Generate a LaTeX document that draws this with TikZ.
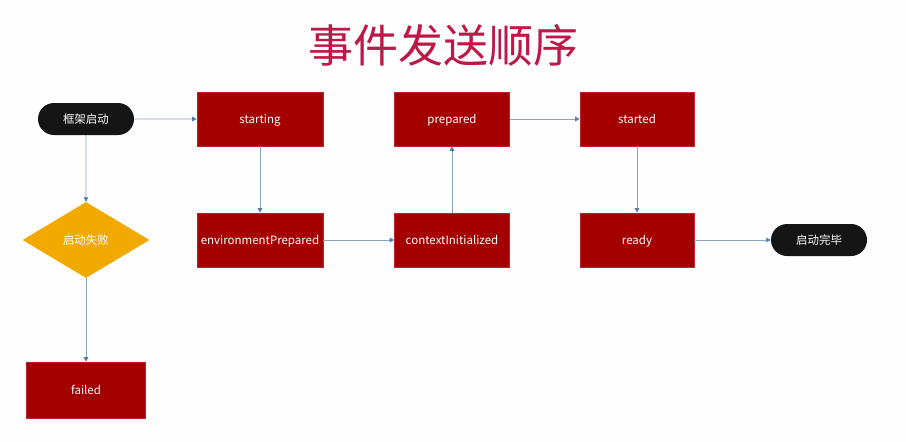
\documentclass[tikz,border=0pt]{standalone}
\usepackage{fontspec}
\setmainfont{Noto Sans CJK SC}
\usetikzlibrary{shapes.geometric,shapes.misc,arrows.meta}
\definecolor{boxred}{HTML}{A50000}
\definecolor{boxedge}{HTML}{C02030}
\definecolor{linec}{HTML}{8AA4BC}
\definecolor{tipc}{HTML}{4F7FA8}
\definecolor{titlec}{HTML}{BE1848}
\definecolor{pillc}{HTML}{151515}
\definecolor{diac}{HTML}{F2A900}
\tikzset{
  lbl/.style={text=white, font=\fontsize{11.5}{13}\selectfont, text height=2.1ex, text depth=0.3ex},
  evbox/.style={lbl, draw=boxedge, line width=0.6pt, fill=boxred, minimum width=#1, minimum height=54pt, inner sep=0pt},
  evbox/.default=126pt,
  pill/.style={lbl, rounded rectangle, fill=pillc, minimum width=96pt, minimum height=32pt, inner sep=0pt},
  dia/.style={lbl, diamond, fill=diac, minimum width=127pt, minimum height=76pt, inner sep=0pt, aspect=1.67},
  conn/.style={draw=linec, line width=0.7pt, -{Triangle[width=4.5pt,length=4.5pt,color=tipc]}},
}
\begin{document}
\begin{tikzpicture}[x=1pt,y=-1pt]
\fill[white!99!gray] (0,0) rectangle (906,442);
\useasboundingbox (0,0) rectangle (906,442);
\node[text=titlec, font=\fontsize{45}{50}\selectfont] (title) at (443,45) {事件发送顺序};
\node[pill] (start) at (86,119) {框架启动};
\node[evbox] (starting) at (260,119) {starting};
\node[evbox] (env) at (260,240) {environmentPrepared};
\node[evbox=115pt] (ctx) at (452,240) {contextInitialized};
\node[evbox=115pt] (prep) at (452,119) {prepared};
\node[evbox=114pt] (started) at (637,119) {started};
\node[evbox=114pt] (ready) at (637,240) {ready};
\node[pill] (done) at (819,240) {启动完毕};
\node[dia] (fail) at (86,240) {启动失败};
\node[evbox=119pt, minimum height=56pt] (failed) at (86,390) {failed};
\draw[conn] (start) -- (starting);
\draw[conn] (start) -- (fail);
\draw[conn] (starting) -- (env);
\draw[conn] (env) -- (ctx);
\draw[conn] (ctx) -- (prep);
\draw[conn] (prep) -- (started);
\draw[conn] (started) -- (ready);
\draw[conn] (ready) -- (done);
\draw[conn] (fail) -- (failed);
\end{tikzpicture}
\end{document}
